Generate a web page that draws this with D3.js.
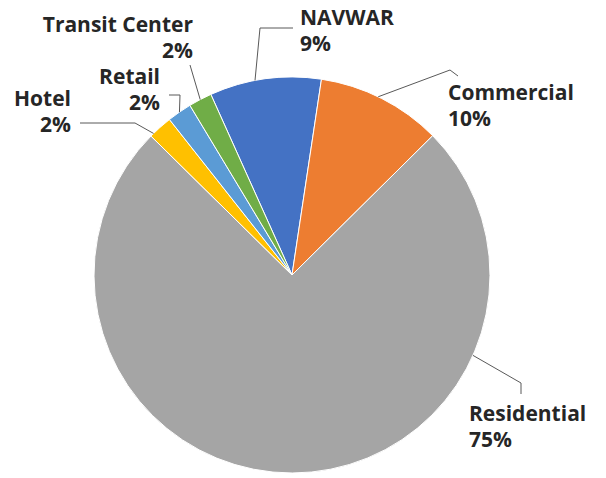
<!DOCTYPE html>
<html>
<head>
<meta charset="utf-8">
<script src="https://cdn.jsdelivr.net/npm/d3@7"></script>
<style>
  body { margin: 0; background: #ffffff; }
  .lbl { font-family: "Open Sans", sans-serif; font-weight: bold; font-size: 21px; fill: #262626; }
</style>
</head>
<body>
<script>
// data, clockwise from the first slice
var categories = ["NAVWAR", "Commercial", "Residential", "Hotel", "Retail", "Transit Center"];
var values = [9.1, 10.2, 74.8, 2.0, 2.0, 1.9];
var pct_labels = ["9%", "10%", "75%", "2%", "2%", "2%"];
var colors = ["#4472C4", "#ED7D31", "#A5A5A5", "#FFC000", "#5B9BD5", "#70AD47"];

var w = 606, h = 478;
var cx = 292, cy = 275, r = 198;
var start_deg = -24.2;
var line_gap = 26;

// label layout (text position, elbow points of the leader, where on the slice it attaches)
var label_layout = {
  "NAVWAR":        {x: 300, y: 25,  anchor: "start", elbow: [[260, 28], [293, 28]], at: 0.41},
  "Commercial":    {x: 448, y: 100, anchor: "start", elbow: [[450, 70], [458, 76]], at: 0.47},
  "Residential":   {x: 469, y: 421, anchor: "start", elbow: [[521, 383], [521, 394]], at: 0.255},
  "Hotel":         {x: 71,  y: 106, anchor: "end",   elbow: [[135, 123], [80, 123]], at: 0.15},
  "Retail":        {x: 160, y: 84,  anchor: "end",   elbow: [[180, 95], [169, 95]], at: 0.5},
  "Transit Center":{x: 193, y: 32,  anchor: "end",   elbow: [[190, 65]], at: 0.5}
};

var svg = d3.select("body").append("svg")
  .attr("width", w)
  .attr("height", h);

var table = categories.map(function(c, i){
  return {name: c, value: values[i], pct: pct_labels[i], color: colors[i]};
});

var pie = d3.pie()
  .sort(null)
  .value(function(d){ return d.value; })
  .startAngle(start_deg * Math.PI / 180)
  .endAngle(start_deg * Math.PI / 180 + 2 * Math.PI);

var arc = d3.arc().innerRadius(0).outerRadius(r);

var g = svg.append("g").attr("transform", "translate(" + cx + "," + cy + ")");
var arcs = pie(table);

g.selectAll("path")
  .data(arcs)
  .enter()
  .append("path")
  .attr("d", arc)
  .style("fill", function(d){ return d.data.color; })
  .style("stroke", "#ffffff")
  .style("stroke-width", 1);

// leader lines
var lines = svg.append("g");
arcs.forEach(function(d){
  var lay = label_layout[d.data.name];
  var a = d.startAngle + (d.endAngle - d.startAngle) * lay.at;
  var p0 = [cx + r * Math.sin(a), cy - r * Math.cos(a)];
  var pts = [p0].concat(lay.elbow);
  lines.append("path")
    .attr("d", d3.line()(pts))
    .style("fill", "none")
    .style("stroke", "#595959")
    .style("stroke-width", 1);
});

// labels
var labels = svg.append("g");
arcs.forEach(function(d){
  var lay = label_layout[d.data.name];
  var t = labels.append("text")
    .attr("class", "lbl")
    .attr("text-anchor", lay.anchor)
    .attr("x", lay.x)
    .attr("y", lay.y);
  t.append("tspan").attr("x", lay.x).text(d.data.name);
  t.append("tspan").attr("x", lay.x).attr("dy", line_gap).text(d.data.pct);
});
</script>
</body>
</html>
